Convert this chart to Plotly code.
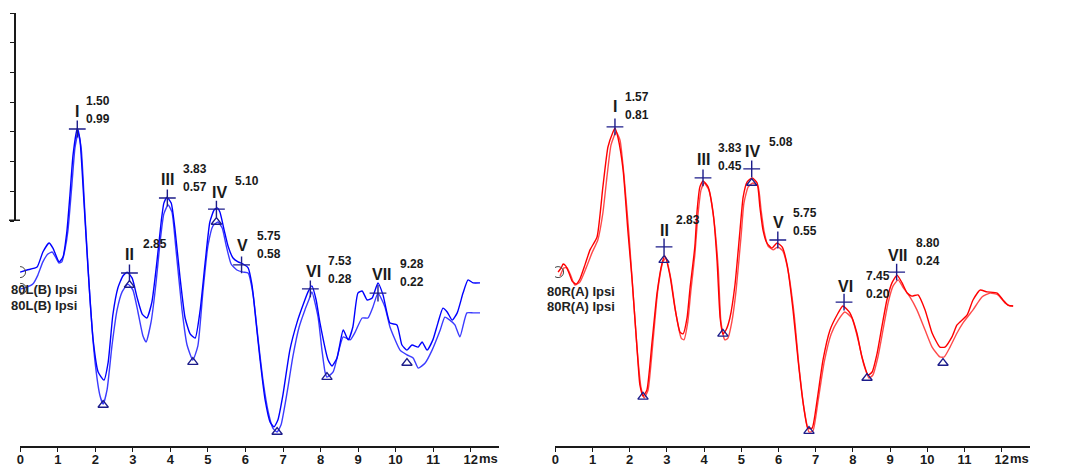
import plotly.graph_objects as go

# The page body has an 8 px margin, so the figure is drawn 8 px in from the window's corner.
OFF = 8
FW, FH = 1075 - OFF, 468 - OFF

# ---------------- data (time in ms, amplitude in uV) ----------------
left_a = [(0.02,-0.007),(0.20,0.000),(0.46,0.010),(0.61,0.060),(0.77,0.090),(0.87,0.073),(1.03,0.027),(1.13,0.043),(1.23,0.127),(1.31,0.250),(1.39,0.383),(1.50,0.473),(1.57,0.433),(1.67,0.233),(1.78,0.000),(1.91,-0.233),(2.04,-0.340),(2.19,-0.367),(2.30,-0.307),(2.42,-0.150),(2.55,-0.060),(2.68,-0.020),(2.79,-0.007),(2.92,-0.027),(3.05,-0.093),(3.18,-0.147),(3.30,-0.160),(3.43,-0.107),(3.56,0.027),(3.67,0.160),(3.74,0.223),(3.82,0.243),(3.93,0.223),(4.03,0.133),(4.16,-0.027),(4.29,-0.160),(4.42,-0.213),(4.55,-0.227),(4.68,-0.133),(4.81,0.027),(4.93,0.160),(5.04,0.200),(5.12,0.207),(5.19,0.193),(5.30,0.133),(5.40,0.080),(5.53,0.040),(5.66,0.027),(5.79,0.020),(5.92,0.007),(6.02,-0.050),(6.12,-0.167),(6.23,-0.300),(6.36,-0.433),(6.49,-0.507),(6.59,-0.523),(6.69,-0.500),(6.82,-0.417),(7.00,-0.267),(7.19,-0.173),(7.34,-0.117),(7.47,-0.073),(7.57,-0.053),(7.68,-0.100),(7.78,-0.177),(7.99,-0.300),(8.09,-0.320),(8.22,-0.293),(8.38,-0.200),(8.51,-0.233),(8.63,-0.190),(8.76,-0.077),(8.87,-0.070),(9.00,-0.100),(9.13,-0.093),(9.28,-0.043),(9.41,-0.083),(9.59,-0.177),(9.77,-0.183),(9.90,-0.250),(10.03,-0.267),(10.16,-0.250),(10.32,-0.257),(10.42,-0.240),(10.55,-0.267),(10.70,-0.233),(10.83,-0.177),(10.96,-0.127),(11.07,-0.140),(11.20,-0.167),(11.33,-0.143),(11.48,-0.077),(11.61,-0.033),(11.74,-0.043),(11.92,-0.043)]

left_b = [(0.04,-0.063),(0.20,-0.057),(0.35,-0.047),(0.48,-0.017),(0.61,0.027),(0.74,0.053),(0.85,0.060),(0.95,0.040),(1.03,0.023),(1.10,0.027),(1.18,0.067),(1.26,0.133),(1.36,0.283),(1.44,0.407),(1.52,0.457),(1.60,0.407),(1.70,0.183),(1.83,-0.100),(1.96,-0.307),(2.09,-0.420),(2.17,-0.447),(2.27,-0.400),(2.40,-0.250),(2.53,-0.133),(2.66,-0.073),(2.81,-0.047),(2.94,-0.067),(3.07,-0.140),(3.20,-0.220),(3.28,-0.240),(3.41,-0.173),(3.54,-0.040),(3.64,0.090),(3.74,0.187),(3.85,0.217),(3.95,0.193),(4.05,0.073),(4.21,-0.133),(4.34,-0.250),(4.49,-0.300),(4.62,-0.253),(4.75,-0.073),(4.88,0.080),(5.01,0.147),(5.14,0.160),(5.25,0.140),(5.35,0.083),(5.48,0.020),(5.63,0.000),(5.79,-0.007),(5.92,-0.010),(6.05,-0.083),(6.18,-0.233),(6.31,-0.373),(6.44,-0.473),(6.56,-0.527),(6.67,-0.540),(6.77,-0.517),(6.93,-0.407),(7.08,-0.287),(7.24,-0.190),(7.39,-0.133),(7.50,-0.097),(7.57,-0.073),(7.73,-0.157),(7.83,-0.267),(7.91,-0.340),(7.96,-0.357),(8.12,-0.340),(8.38,-0.223),(8.56,-0.233),(8.69,-0.207),(8.87,-0.160),(9.02,-0.160),(9.15,-0.123),(9.28,-0.077),(9.46,-0.123),(9.59,-0.190),(9.85,-0.267),(10.03,-0.283),(10.19,-0.293),(10.32,-0.327),(10.50,-0.310),(10.68,-0.267),(10.89,-0.200),(11.01,-0.157),(11.14,-0.167),(11.27,-0.183),(11.40,-0.223),(11.58,-0.143),(11.74,-0.143),(11.92,-0.143)]

right_a = [(0.11,-0.007),(0.19,0.007),(0.24,0.020),(0.31,0.013),(0.39,-0.010),(0.47,-0.037),(0.57,-0.047),(0.67,-0.030),(0.80,0.017),(0.93,0.067),(1.11,0.110),(1.26,0.277),(1.39,0.410),(1.52,0.460),(1.57,0.473),(1.65,0.440),(1.78,0.333),(1.90,0.133),(2.01,-0.033),(2.14,-0.267),(2.21,-0.383),(2.29,-0.420),(2.39,-0.400),(2.52,-0.243),(2.65,-0.077),(2.78,0.023),(2.85,0.047),(2.98,-0.017),(3.11,-0.127),(3.24,-0.207),(3.32,-0.213),(3.42,-0.160),(3.50,-0.057),(3.62,0.077),(3.68,0.200),(3.75,0.277),(3.83,0.297),(3.96,0.277),(4.09,0.190),(4.19,0.033),(4.27,-0.160),(4.34,-0.213),(4.42,-0.200),(4.52,-0.160),(4.65,-0.050),(4.78,0.133),(4.86,0.243),(4.96,0.293),(5.09,0.307),(5.22,0.290),(5.29,0.210),(5.37,0.133),(5.47,0.090),(5.60,0.073),(5.73,0.090),(5.86,0.077),(5.99,0.017),(6.14,-0.133),(6.27,-0.300),(6.40,-0.443),(6.52,-0.527),(6.63,-0.527),(6.76,-0.433),(6.91,-0.300),(7.09,-0.200),(7.27,-0.150),(7.42,-0.120),(7.60,-0.143),(7.78,-0.210),(7.91,-0.290),(8.07,-0.350),(8.17,-0.340),(8.30,-0.277),(8.42,-0.190),(8.55,-0.100),(8.68,-0.043),(8.81,-0.017),(8.94,-0.043),(9.07,-0.077),(9.19,-0.087),(9.35,-0.083),(9.53,-0.133),(9.71,-0.210),(9.91,-0.257),(10.04,-0.257),(10.22,-0.223),(10.35,-0.183),(10.61,-0.150),(10.76,-0.100),(10.94,-0.067),(11.12,-0.073),(11.38,-0.077),(11.53,-0.100),(11.66,-0.117),(11.79,-0.120)]

right_b = [(0.16,-0.020),(0.26,0.007),(0.34,0.007),(0.44,-0.020),(0.54,-0.050),(0.67,-0.040),(0.83,0.007),(0.98,0.057),(1.13,0.100),(1.26,0.190),(1.37,0.317),(1.47,0.417),(1.60,0.460),(1.70,0.433),(1.80,0.317),(1.93,0.117),(2.03,-0.067),(2.14,-0.267),(2.24,-0.393),(2.32,-0.427),(2.42,-0.400),(2.55,-0.233),(2.67,-0.067),(2.80,0.027),(2.88,0.040),(3.01,-0.033),(3.14,-0.150),(3.27,-0.227),(3.34,-0.233),(3.44,-0.173),(3.52,-0.067),(3.62,0.050),(3.70,0.183),(3.78,0.267),(3.86,0.290),(3.98,0.267),(4.11,0.167),(4.22,0.007),(4.29,-0.173),(4.39,-0.233),(4.47,-0.227),(4.57,-0.173),(4.68,-0.067),(4.81,0.117),(4.88,0.223),(4.99,0.277),(5.11,0.290),(5.24,0.280),(5.32,0.200),(5.40,0.127),(5.50,0.080),(5.63,0.067),(5.75,0.077),(5.88,0.063),(6.01,0.000),(6.17,-0.150),(6.29,-0.317),(6.42,-0.460),(6.55,-0.540),(6.65,-0.537),(6.78,-0.440),(6.94,-0.307),(7.12,-0.213),(7.30,-0.167),(7.47,-0.140),(7.65,-0.160),(7.81,-0.233),(7.96,-0.317),(8.09,-0.360),(8.19,-0.350),(8.32,-0.290),(8.45,-0.200),(8.58,-0.110),(8.71,-0.053),(8.84,-0.033),(8.96,-0.057),(9.14,-0.090),(9.32,-0.133),(9.53,-0.200),(9.71,-0.257),(9.91,-0.290),(10.02,-0.290),(10.17,-0.257),(10.35,-0.210),(10.50,-0.177),(10.76,-0.133),(10.99,-0.090),(11.20,-0.077),(11.40,-0.083),(11.58,-0.110),(11.71,-0.120),(11.79,-0.120)]

wave_names = ["I", "II", "III", "IV", "V", "VI", "VII"]

left_title = "80L(B) Ipsi"
left_lat = [1.50, 2.85, 3.83, 5.10, 5.75, 7.53, 9.28]
left_amp_txt = ["0.99", "", "0.57", "", "0.58", "0.28", "0.22"]
left_peak_amp = [0.470, -0.010, 0.240, 0.203, 0.017, -0.063, -0.077]
left_tri_t = [2.85, 5.10, 2.17, 4.49, 6.67, 7.96, 10.03]
left_tri_v = [-0.050, 0.160, -0.450, -0.307, -0.540, -0.357, -0.310]

right_title = "80R(A) Ipsi"
right_lat = [1.57, 2.83, 3.83, 5.08, 5.75, 7.45, 8.80]
right_amp_txt = ["0.81", "", "0.45", "", "0.55", "0.20", "0.24"]
right_peak_amp = [0.477, 0.077, 0.307, 0.337, 0.100, -0.107, -0.007]
right_tri_t = [2.83, 5.08, 2.29, 4.34, 6.55, 8.04, 9.99]
right_tri_v = [0.033, 0.290, -0.423, -0.213, -0.537, -0.360, -0.310]

tick_vals = list(range(13))
tick_text = [str(v) for v in tick_vals]

# ---------------- layout helpers ----------------
left_num_off = [(0, 18), (0, 18), (0, 19), (3, 17), (1, 19), (3, 17), (4, 19)]
left_val_off = [(21, 28), (26, 29), (28, 29), (31, 28), (27, 29), (30, 28), (34, 29)]
right_num_off = [(0, 20), (0, 16), (0, 18), (1, 17), (1, 17), (1, 16), (1, 17)]
right_val_off = [(22, 30), (24, 27), (27, 30), (29, 27), (27, 27), (34, 26), (31, 29)]

FONT = "Arial, Liberation Sans, sans-serif"
TXT = "#1a1a1a"
NAVY = "#1c1c8a"


def fx(px):
    return (px - OFF) / FW


def fy(py):
    return 1 - (py - OFF) / FH


def split(pairs):
    return [p[0] for p in pairs], [p[1] for p in pairs]


fig = go.Figure()

for xa, ya in (("x", "y"), ("x3", "y"), ("x", "y2")):
    fig.add_trace(go.Scatter(x=[0], y=[0], xaxis=xa, yaxis=ya, mode="markers",
                             marker=dict(opacity=0, size=1), hoverinfo="skip", showlegend=False))

panels = [
    dict(xa="x2", a=left_a, b=left_b, ca="#0000ff", cb="#3b3bff", lat=left_lat,
         pk=left_peak_amp, tt=left_tri_t, tv=left_tri_v, amp=left_amp_txt,
         noff=left_num_off, voff=left_val_off, circles=[left_a[0], left_b[0]]),
    dict(xa="x4", a=right_a, b=right_b, ca="#ff0000", cb="#ff4a4a", lat=right_lat,
         pk=right_peak_amp, tt=right_tri_t, tv=right_tri_v, amp=right_amp_txt,
         noff=right_num_off, voff=right_val_off, circles=[right_a[0]]),
]

annotations = []
for p in panels:
    for key, col in (("b", p["cb"]), ("a", p["ca"])):
        t, v = split(p[key])
        fig.add_trace(go.Scatter(x=t, y=v, xaxis=p["xa"], yaxis="y", mode="lines",
                                 line=dict(color=col, width=1.4, shape="spline", smoothing=0.5),
                                 hoverinfo="skip", showlegend=False))
    fig.add_trace(go.Scatter(x=p["tt"], y=p["tv"], xaxis=p["xa"], yaxis="y", mode="markers",
                             marker=dict(symbol="triangle-up-open", size=9, color=NAVY,
                                         line=dict(color=NAVY, width=1.3)),
                             hoverinfo="skip", showlegend=False))
    fig.add_trace(go.Scatter(x=p["lat"], y=p["pk"], xaxis=p["xa"], yaxis="y", mode="markers",
                             marker=dict(symbol="cross-thin", size=12, color=NAVY,
                                         line=dict(color=NAVY, width=1.4)),
                             hoverinfo="skip", showlegend=False))
    ct, cv = split(p["circles"])
    fig.add_trace(go.Scatter(x=ct, y=cv, xaxis=p["xa"], yaxis="y", mode="markers",
                             marker=dict(symbol="circle-open", size=11, color="#444",
                                         line=dict(color="#444", width=1)),
                             hoverinfo="skip", showlegend=False))
    for i, name in enumerate(wave_names):
        dx, dy = p["noff"][i]
        annotations.append(dict(x=p["lat"][i], y=p["pk"][i], xref=p["xa"], yref="y",
                                text=f"<b>{name}</b>", showarrow=False, xshift=dx, yshift=dy,
                                font=dict(family=FONT, size=16, color=TXT)))
        vx, vy = p["voff"][i]
        annotations.append(dict(x=p["lat"][i], y=p["pk"][i], xref=p["xa"], yref="y",
                                text=f"<b>{p['lat'][i]:.2f}</b>", showarrow=False,
                                xshift=vx, yshift=vy,
                                font=dict(family=FONT, size=12, color=TXT)))
        if p["amp"][i]:
            annotations.append(dict(x=p["lat"][i], y=p["pk"][i], xref=p["xa"], yref="y",
                                    text=f"<b>{p['amp'][i]}</b>", showarrow=False,
                                    xshift=vx, yshift=vy - 18,
                                    font=dict(family=FONT, size=12, color=TXT)))

for xpx, ys, title in ((9, (289, 305), left_title), (545, (291, 306), right_title)):
    for ypx in ys:
        annotations.append(dict(x=fx(xpx), y=fy(ypx), xref="paper", yref="paper",
                                xanchor="left", yanchor="middle", text=f"<b>{title}</b>",
                                showarrow=False, font=dict(family=FONT, size=13, color="#222")))

for xa in ("x", "x3"):
    annotations.append(dict(x=12, y=fy(458), xref=xa, yref="paper", xanchor="left",
                            yanchor="middle", xshift=6, text="<b>ms</b>", showarrow=False,
                            font=dict(family=FONT, size=13, color=TXT)))

tick_axis = dict(showline=True, linecolor="#1a1a1a", linewidth=1.5, ticks="outside",
                 ticklen=4, tickwidth=1.2, tickcolor="#1a1a1a", tickvals=tick_vals,
                 ticktext=tick_text, ticklabelstandoff=-3,
                 tickfont=dict(family=FONT, size=13, color=TXT, weight="bold"),
                 showgrid=False, zeroline=False, anchor="y", automargin=False, fixedrange=True)

fig.update_layout(
    width=FW, height=FH,
    margin=dict(l=0, r=0, t=0, b=0),
    paper_bgcolor="white", plot_bgcolor="rgba(0,0,0,0)",
    showlegend=False,
    xaxis=dict(domain=[fx(20), fx(499)], range=[-0.008, 12.755], **tick_axis),
    xaxis2=dict(overlaying="x", anchor="y", range=[0.018, 12.411], visible=False),
    xaxis3=dict(domain=[fx(555), fx(1030)], range=[-0.008, 12.761], **tick_axis),
    xaxis4=dict(overlaying="x3", anchor="y", range=[0.031, 12.223], visible=False),
    yaxis=dict(domain=[fy(446), 1], range=[-0.5867, (270 - OFF) / 300], visible=False,
               fixedrange=True),
    yaxis2=dict(domain=[fy(221), fy(13)], range=[0, 0.7], anchor="free",
                position=fx(15), showline=True, linecolor="#1a1a1a", linewidth=1.5,
                ticks="outside", ticklen=4, tickwidth=1.2, tickcolor="#1a1a1a",
                dtick=0.1, tick0=0, showticklabels=False, showgrid=False, zeroline=False,
                automargin=False),
    shapes=[dict(type="line", xref="paper", yref="y2", x0=fx(9), x1=fx(20), y0=0, y1=0,
                 line=dict(color="#1a1a1a", width=3))],
    annotations=annotations,
)

fig.write_html("out.html")
